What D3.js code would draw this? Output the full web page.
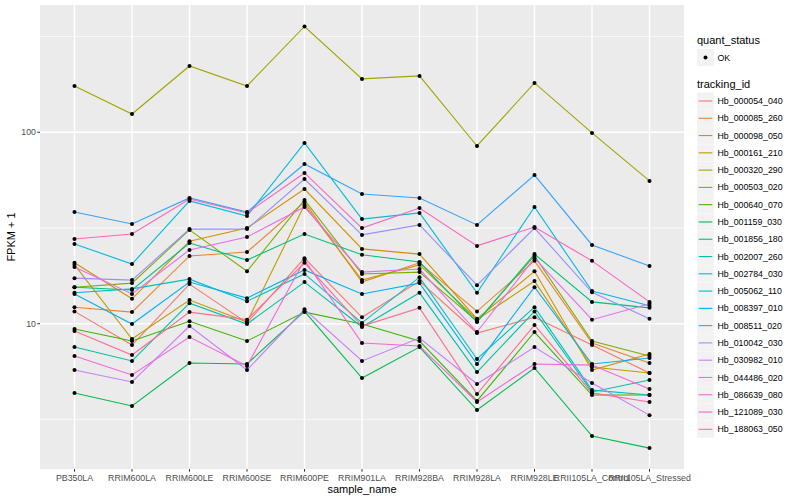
<!DOCTYPE html>
<html><head><meta charset="utf-8">
<script src="https://cdn.jsdelivr.net/npm/d3@7"></script>
<style>body{margin:0;background:#fff}svg{display:block}text{font-family:"Liberation Sans",Arial,Helvetica,sans-serif}</style>
</head><body><svg id="c" width="800" height="500"></svg>
<script>
const categories = ["PB350LA","RRIM600LA","RRIM600LE","RRIM600SE","RRIM600PE","RRIM901LA","RRIM928BA","RRIM928LA","RRIM928LE","RRII105LA_Control","RRII105LA_Stressed"];
const trackingIds = ["Hb_000054_040","Hb_000085_260","Hb_000098_050","Hb_000161_210","Hb_000320_290","Hb_000503_020","Hb_000640_070","Hb_001159_030","Hb_001856_180","Hb_002007_260","Hb_002784_030","Hb_005062_110","Hb_008397_010","Hb_008511_020","Hb_010042_030","Hb_030982_010","Hb_044486_020","Hb_086639_080","Hb_121089_030","Hb_188063_050"];
// FPKM + 1 per sample, in category order
const hb000054_040 = [11.6, 7.74, 16.1, 10.1, 22.0, 10.8, 16.7, 8.94, 10.8, 7.74, 5.53];
const hb000085_260 = [12.2, 11.5, 22.6, 23.7, 43.2, 16.5, 20.8, 11.6, 21.3, 7.93, 6.23];
const hb000098_050 = [20.8, 13.5, 27.0, 31.6, 50.5, 24.6, 23.1, 10.6, 18.8, 5.73, 6.94];
const hb000161_210 = [20.3, 8.32, 13.3, 10.2, 41.7, 16.9, 20.3, 10.5, 16.7, 5.94, 5.53];
const hb000320_290 = [174.5, 124.6, 222, 174.5, 357, 190, 197, 84.8, 181, 99.2, 55.7];
const hb000503_020 = [15.5, 16.3, 30.9, 18.8, 44.3, 18.2, 18.6, 10.3, 22.6, 8.12, 6.78];
const hb000640_070 = [9.38, 8.12, 10.3, 8.12, 11.5, 9.96, 8.12, 3.95, 9.05, 4.24, 4.24];
const hb001159_030 = [4.35, 3.72, 6.23, 6.16, 11.6, 5.20, 7.55, 3.54, 5.87, 2.59, 2.24];
const hb001856_180 = [15.5, 15.0, 26.4, 21.5, 29.4, 22.9, 21.0, 10.2, 23.1, 13.0, 12.1];
const hb002007_260 = [7.55, 6.39, 12.8, 9.96, 16.5, 9.61, 14.5, 5.59, 11.6, 4.40, 5.08];
const hb002784_030 = [14.5, 15.2, 17.1, 13.1, 18.2, 10.1, 17.5, 6.54, 12.2, 4.50, 4.24];
const hb005062_110 = [26.1, 20.5, 43.8, 36.5, 87.9, 35.2, 37.9, 14.5, 40.7, 14.8, 12.4];
const hb008397_010 = [14.3, 9.96, 16.5, 13.6, 19.1, 14.3, 16.3, 6.16, 15.5, 6.16, 6.62];
const hb008511_020 = [38.3, 33.2, 45.4, 38.3, 68.3, 47.6, 45.4, 32.8, 59.8, 25.8, 20.0];
const hb010042_030 = [17.3, 16.9, 31.2, 31.2, 57.0, 29.1, 32.8, 15.9, 31.6, 14.6, 10.6];
const hb030982_010 = [5.73, 4.96, 9.72, 5.73, 11.9, 6.39, 8.42, 4.84, 7.55, 4.90, 3.33];
const hb044486_020 = [19.8, 14.3, 24.3, 28.4, 40.7, 18.6, 19.3, 9.05, 22.0, 10.5, 12.7];
const hb086639_080 = [6.78, 5.40, 8.52, 6.01, 21.5, 7.93, 7.65, 3.90, 6.16, 6.08, 4.56];
const hb121089_030 = [27.7, 29.4, 44.8, 37.9, 61.3, 31.6, 40.2, 25.5, 32.0, 21.3, 13.0];
const hb188063_050 = [9.16, 6.86, 11.5, 10.5, 20.8, 9.72, 12.1, 4.29, 9.84, 4.35, 3.90];
const seriesValues = [hb000054_040,hb000085_260,hb000098_050,hb000161_210,hb000320_290,hb000503_020,hb000640_070,hb001159_030,hb001856_180,hb002007_260,hb002784_030,hb005062_110,hb008397_010,hb008511_020,hb010042_030,hb030982_010,hb044486_020,hb086639_080,hb121089_030,hb188063_050];
const yTicks = [10, 100];
const yMinor = [3.1623, 31.623, 316.23];
const quantStatus = ["OK"];

const colors = ["#F8766D","#EA8331","#D89000","#C09B00","#A3A500","#7CAE00","#39B600","#00BB4E","#00BF7D","#00C1A3","#00BFC4","#00BAE0","#00B0F6","#35A2FF","#9590FF","#C77CFF","#E76BF3","#FA62DB","#FF62BC","#FF6C91"];

const svg = d3.select("#c");
const P = {l:40, r:684, t:5, b:469};
const x = d3.scalePoint().domain(categories).range([P.l, P.r]).padding(0.6);
const y = d3.scaleLog().domain([1.742, 462.3]).range([P.b, P.t]);

svg.append("rect").attr("x",P.l).attr("y",P.t).attr("width",P.r-P.l).attr("height",P.b-P.t).attr("fill","#EBEBEB");
const g = svg.append("g");
g.selectAll(".mn").data(yMinor).join("line").attr("x1",P.l).attr("x2",P.r).attr("y1",d=>y(d)).attr("y2",d=>y(d)).attr("stroke","#fff").attr("stroke-width",0.7);
g.selectAll(".mj").data(yTicks).join("line").attr("x1",P.l).attr("x2",P.r).attr("y1",d=>y(d)).attr("y2",d=>y(d)).attr("stroke","#fff").attr("stroke-width",1.4);
g.selectAll(".vx").data(categories).join("line").attr("x1",d=>x(d)).attr("x2",d=>x(d)).attr("y1",P.t).attr("y2",P.b).attr("stroke","#fff").attr("stroke-width",1.4);

const series = trackingIds.map((id,i)=>({id, color: colors[i], vals: seriesValues[i].map((v,j)=>({c: categories[j], v}))}));
const line = d3.line().x(d=>x(d.c)).y(d=>y(d.v));
svg.append("g").selectAll("path").data(series).join("path").attr("d",d=>line(d.vals)).attr("fill","none").attr("stroke",d=>d.color).attr("stroke-width",1.1);
const pts = series.flatMap(s=>s.vals);
svg.append("g").selectAll("circle").data(pts).join("circle").attr("cx",d=>x(d.c)).attr("cy",d=>y(d.v)).attr("r",2).attr("fill","#000");

// axes
const ax = svg.append("g");
ax.selectAll(".yt").data(yTicks).join("line").attr("x1",P.l-2.7).attr("x2",P.l).attr("y1",d=>y(d)).attr("y2",d=>y(d)).attr("stroke","#333").attr("stroke-width",1);
ax.selectAll(".yl").data(yTicks).join("text").attr("x",P.l-4).attr("y",d=>y(d)).attr("dy","0.35em").attr("text-anchor","end").attr("font-size","8.8px").attr("fill","#4D4D4D").text(d=>d);
ax.selectAll(".xt").data(categories).join("line").attr("x1",d=>x(d)).attr("x2",d=>x(d)).attr("y1",P.b).attr("y2",P.b+2.7).attr("stroke","#333").attr("stroke-width",1);
ax.selectAll(".xl").data(categories).join("text").attr("x",d=>x(d)).attr("y",P.b+11.5).attr("text-anchor","middle").attr("font-size","8.8px").attr("fill","#4D4D4D").text(d=>d);
svg.append("text").attr("x",(P.l+P.r)/2).attr("y",493).attr("text-anchor","middle").attr("font-size","11px").attr("fill","#000").text("sample_name");
svg.append("text").attr("transform",`translate(15,${(P.t+P.b)/2}) rotate(-90)`).attr("text-anchor","middle").attr("font-size","11px").attr("fill","#000").text("FPKM + 1");

// legend
const L = svg.append("g");
L.append("text").attr("x",697).attr("y",44).attr("font-size","11px").text("quant_status");
const q = L.selectAll(".q").data(quantStatus).join("g").attr("transform","translate(697,49)");
q.append("rect").attr("width",17).attr("height",17).attr("fill","#F2F2F2");
q.append("circle").attr("cx",8.5).attr("cy",8.5).attr("r",2).attr("fill","#000");
q.append("text").attr("x",20.5).attr("y",8.5).attr("dy","0.35em").attr("font-size","8.8px").text(d=>d);
L.append("text").attr("x",697).attr("y",88).attr("font-size","11px").text("tracking_id");
const it = L.selectAll(".it").data(series).join("g").attr("transform",(d,i)=>`translate(697,${92.5+i*17.28})`);
it.append("rect").attr("width",17).attr("height",17).attr("fill","#F2F2F2");
it.append("line").attr("x1",1.7).attr("x2",15.3).attr("y1",8.5).attr("y2",8.5).attr("stroke",d=>d.color).attr("stroke-width",1.1);
it.append("text").attr("x",20.5).attr("y",8.5).attr("dy","0.35em").attr("font-size","8.8px").text(d=>d.id);
</script></body></html>
